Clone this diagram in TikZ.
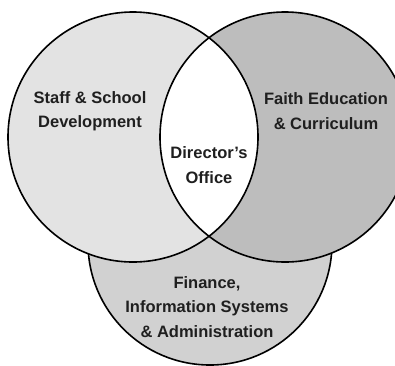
\documentclass[tikz,border=0pt]{standalone}
\usepackage{fontspec}
\setmainfont{Liberation Sans}
\begin{document}
\begin{tikzpicture}[x=1pt,y=1pt,
  ring/.style={draw=black,line width=1.6pt},
  lbl/.style={align=center,font=\fontsize{16.5}{24.5}\selectfont\bfseries,text=black!88}]
\useasboundingbox (0,0) rectangle (395,-365);
\clip (0,0) rectangle (395,-365);
\definecolor{leftfill}{gray}{0.89}
\definecolor{rightfill}{gray}{0.74}
\definecolor{botfill}{gray}{0.82}
% circle centres
\coordinate (cb) at (210,-243);
\coordinate (cl) at (133,-137);
\coordinate (cr) at (285,-137);
% bottom circle
\fill[botfill] (cb) circle (122);
\draw[ring] (cb) circle (122);
% top circles fills
\fill[leftfill] (cl) circle (125);
\fill[rightfill] (cr) circle (125);
\begin{scope}
  \clip (cl) circle (125);
  \fill[white] (cr) circle (125);
\end{scope}
\draw[ring] (cl) circle (125);
\draw[ring] (cr) circle (125);
% labels
\node[lbl] (staff) at (90,-111) {Staff \& School\\Development};
\node[lbl] (faith) at (326,-111) {Faith Education\\\& Curriculum};
\node[lbl] (dir) at (209,-165) {Director's\\Office};
\node[lbl] (fin) at (207,-307) {Finance,\\Information Systems\\\& Administration};
\end{tikzpicture}
\end{document}
